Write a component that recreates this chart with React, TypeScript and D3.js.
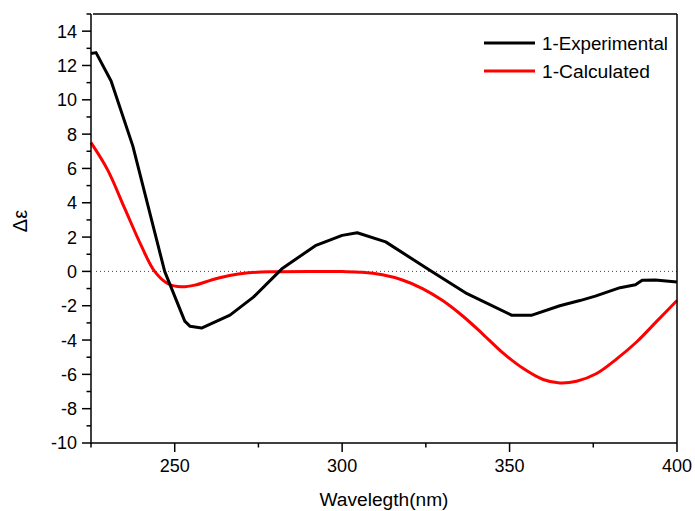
import React from "react";
import * as d3 from "d3";

const expWavelength = [225, 226.5, 231, 237.5, 247, 253, 254.6, 258, 266.5, 273.5, 282, 292, 300, 304.5, 313, 326.3, 337.3, 350.7, 356.7, 365, 371, 375.6, 383, 387.6, 389.6, 393.5, 400];
const expValues = [12.7, 12.75, 11.1, 7.3, 0, -2.9, -3.2, -3.3, -2.55, -1.5, 0.15, 1.5, 2.1, 2.25, 1.72, 0.05, -1.3, -2.56, -2.55, -2.0, -1.7, -1.44, -0.95, -0.78, -0.52, -0.5, -0.62];

const calcWavelength = [225, 230, 235, 240, 244, 248, 252, 256, 261, 266, 272, 280, 290, 300, 306, 312, 318, 324, 330, 336, 342, 348, 354, 360, 365, 370, 376, 382, 388, 394, 400];
const calcValues = [7.5, 5.9, 3.7, 1.5, 0, -0.72, -0.9, -0.8, -0.5, -0.25, -0.08, -0.02, 0, -0.01, -0.05, -0.2, -0.5, -1.0, -1.7, -2.6, -3.65, -4.75, -5.65, -6.3, -6.5, -6.4, -5.95, -5.1, -4.1, -2.9, -1.7];

const xMajorTicks = [250, 300, 350, 400];
const xMinorTicks = [225, 275, 325, 375];
const yMajorTicks = [-10, -8, -6, -4, -2, 0, 2, 4, 6, 8, 10, 12, 14];
const yMinorTicks = [-9, -7, -5, -3, -1, 1, 3, 5, 7, 9, 11, 13, 15];

const seriesNames = ["1-Experimental", "1-Calculated"];
const seriesColors = ["#000000", "#ff0000"];

const FONT = "'Liberation Sans', Arial, Helvetica, sans-serif";

export default function App() {
  const W = 695, H = 511;
  const left = 91, right = 677, top = 14, bottom = 443;
  const x = d3.scaleLinear().domain([225, 400]).range([left, right]);
  const y = d3.scaleLinear().domain([-10, 15]).range([bottom, top]);

  const expData = expWavelength.map((w, i) => [w, expValues[i]] as [number, number]);
  const calcData = calcWavelength.map((w, i) => [w, calcValues[i]] as [number, number]);

  const lineLin = d3.line<[number, number]>().x(d => x(d[0])).y(d => y(d[1]));
  const lineSmooth = d3.line<[number, number]>().x(d => x(d[0])).y(d => y(d[1])).curve(d3.curveCatmullRom.alpha(0.5));

  return (
    <svg width={W} height={H} style={{ position: "absolute", left: 0, top: 0, background: "#fff" }}>
      <rect x={0} y={0} width={W} height={H} fill="#fff" />
      {/* zero line */}
      <line x1={x(226.5)} x2={right} y1={y(0)} y2={y(0)} stroke="#444" strokeWidth={1} strokeDasharray="1,3" />

      {/* data */}
      <path d={lineSmooth(calcData) || ""} fill="none" stroke={seriesColors[1]} strokeWidth={3} />
      <path d={lineLin(expData) || ""} fill="none" stroke={seriesColors[0]} strokeWidth={3} strokeLinejoin="round" />

      {/* frame */}
      <line x1={left + 2} x2={right} y1={top} y2={top} stroke="#000" strokeWidth={1.5} />
      <line x1={right} x2={right} y1={top} y2={bottom} stroke="#000" strokeWidth={1.5} />
      <line x1={left} x2={left} y1={top} y2={bottom + 1} stroke="#000" strokeWidth={1.5} />
      <line x1={left} x2={right} y1={bottom} y2={bottom} stroke="#000" strokeWidth={1.5} />

      {/* y ticks */}
      {yMajorTicks.map(t => (
        <g key={"ym" + t}>
          <line x1={left - 9} x2={left} y1={y(t)} y2={y(t)} stroke="#000" strokeWidth={1.5} />
          <text x={left - 14} y={y(t)} dy="0.36em" textAnchor="end" fontFamily={FONT} fontSize={18} fill="#000">{t}</text>
        </g>
      ))}
      {yMinorTicks.map(t => (
        <line key={"yn" + t} x1={left - 4.5} x2={left} y1={y(t)} y2={y(t)} stroke="#000" strokeWidth={1.5} />
      ))}

      {/* x ticks */}
      {xMajorTicks.map(t => (
        <g key={"xm" + t}>
          <line x1={x(t)} x2={x(t)} y1={bottom} y2={bottom + 9} stroke="#000" strokeWidth={1.5} />
          <text x={x(t)} y={472} textAnchor="middle" fontFamily={FONT} fontSize={18} fill="#000">{t}</text>
        </g>
      ))}
      {xMinorTicks.map(t => (
        <line key={"xn" + t} x1={x(t)} x2={x(t)} y1={bottom} y2={bottom + 4.5} stroke="#000" strokeWidth={1.5} />
      ))}

      {/* axis titles */}
      <text x={(left + right) / 2} y={506} textAnchor="middle" fontFamily={FONT} fontSize={18} textLength={129} lengthAdjust="spacingAndGlyphs" fill="#000">Wavelegth(nm)</text>
      <text transform={`translate(27, 221) rotate(-90)`} textAnchor="middle" fontFamily={FONT} fontSize={20} fill="#000">Δε</text>

      {/* legend */}
      {seriesNames.map((name, i) => (
        <g key={name}>
          <line x1={484} x2={535} y1={43 + i * 28} y2={43 + i * 28} stroke={seriesColors[i]} strokeWidth={3} />
          <text x={542} y={49.5 + i * 28} fontFamily={FONT} fontSize={17.5} textLength={i === 0 ? 126 : 108} lengthAdjust="spacingAndGlyphs" fill="#000">{name}</text>
        </g>
      ))}
    </svg>
  );
}
